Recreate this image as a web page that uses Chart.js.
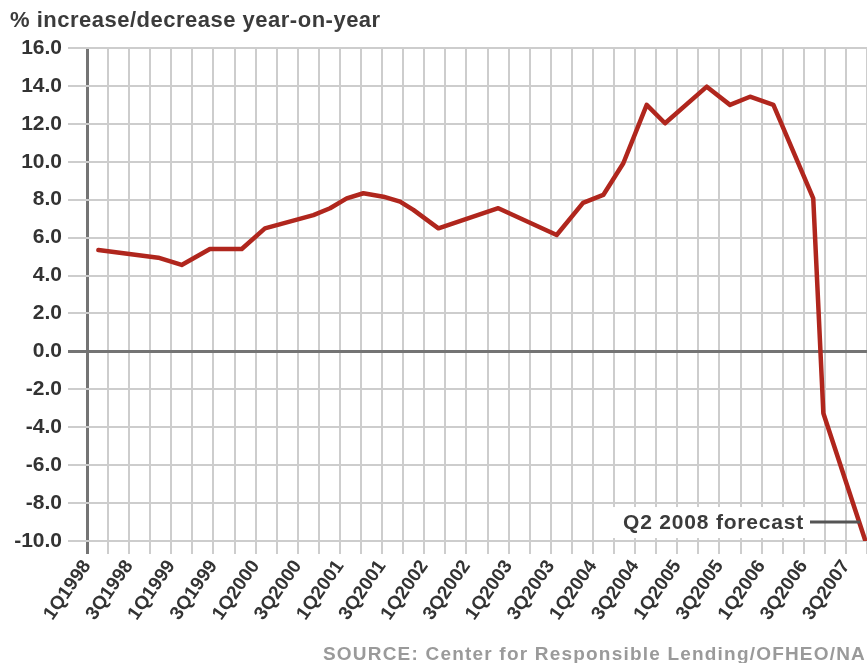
<!DOCTYPE html>
<html>
<head>
<meta charset="utf-8">
<script src="https://cdn.jsdelivr.net/npm/chart.js@4.4.1/dist/chart.umd.min.js"></script>
<style>
  html, body { margin: 0; padding: 0; background: #fff; }
  canvas { display: block; }
</style>
</head>
<body>
<canvas id="yoyChart" width="867" height="663"></canvas>
<script>
// tick labels, one on every second gridline (as printed on the original)
const quarterLabels = ["1Q1998", "3Q1998", "1Q1999", "3Q1999", "1Q2000", "3Q2000", "1Q2001", "3Q2001",
  "1Q2002", "3Q2002", "1Q2003", "3Q2003", "1Q2004", "3Q2004", "1Q2005", "3Q2005", "1Q2006", "3Q2006", "3Q2007"];

// x position in quarters since 1Q1998
const quarterPos = [0.54, 3.38, 4.49, 5.83, 7.34, 8.44, 10.74, 11.53, 12.32, 13.11, 14.06, 14.85, 15.48, 16.67,
  19.51, 22.28, 23.53, 24.49, 25.44, 26.55, 27.42, 29.4, 30.5, 31.45, 32.56, 34.45, 34.93, 36.91];
// % increase/decrease year-on-year
const yoyChange = [5.35, 4.94, 4.56, 5.4, 5.4, 6.49, 7.19, 7.55, 8.07, 8.34, 8.16, 7.9, 7.46, 6.49,
  7.55, 6.14, 7.83, 8.25, 9.92, 13.0, 12.03, 13.96, 13.0, 13.43, 13.0, 8.07, -3.26, -9.95];

const yMin = -10, yMax = 16, yStep = 2;
const xMax = 37;

const titleText = "% increase/decrease year-on-year";
const sourceText = "SOURCE: Center for Responsible Lending/OFHEO/NAR";
const forecastText = "Q2 2008 forecast";

const FONT = "'Liberation Sans', Arial, Helvetica, sans-serif";
const GRID = "#cdcdcd";
const AXIS = "#747474";

const extras = {
  id: "extras",
  afterDraw(chart) {
    const c = chart.ctx;
    const ys = chart.scales.y;
    c.save();
    c.textBaseline = "alphabetic";
    c.textAlign = "left";

    // heading
    c.fillStyle = "#3b3b3b";
    c.font = "bold 22px " + FONT;
    c.letterSpacing = "0.5px";
    c.fillText(titleText, 10, 27);

    // source line (runs off the right edge, as in the original crop)
    c.fillStyle = "#9a9a9a";
    c.font = "bold 19px " + FONT;
    c.letterSpacing = "1.2px";
    c.fillText(sourceText, 323, 660);

    // forecast note
    const ny = ys.getPixelForValue(-9);
    c.fillStyle = "#fff";
    c.fillRect(612, ny - 15, 196, 31);
    c.fillStyle = "#3b3b3b";
    c.font = "bold 21px " + FONT;
    c.letterSpacing = "0.8px";
    c.textAlign = "right";
    c.fillText(forecastText, 804, ny + 7);
    c.strokeStyle = "#555";
    c.lineWidth = 3;
    c.beginPath();
    c.moveTo(810, ny);
    c.lineTo(860, ny);
    c.stroke();
    c.restore();
  }
};

new Chart(document.getElementById("yoyChart"), {
  type: "line",
  data: {
    datasets: [{
      data: quarterPos.map((q, i) => ({ x: q, y: yoyChange[i] })),
      borderColor: "#b0261d",
      borderWidth: 4.5,
      borderJoinStyle: "round",
      borderCapStyle: "round",
      pointRadius: 0,
      tension: 0,
      fill: false
    }]
  },
  options: {
    responsive: false,
    animation: false,
    devicePixelRatio: 1,
    layout: { padding: { top: 48, left: 0, right: 0, bottom: 0 } },
    plugins: { legend: { display: false }, tooltip: { enabled: false } },
    scales: {
      x: {
        type: "linear",
        min: 0,
        max: xMax,
        border: { display: false },
        grid: {
          color: (ctx) => ctx.tick && ctx.tick.value === 0 ? AXIS : GRID,
          lineWidth: (ctx) => ctx.tick && ctx.tick.value === 0 ? 3 : 2,
          tickLength: 13
        },
        ticks: {
          stepSize: 1,
          autoSkip: false,
          minRotation: 55,
          maxRotation: 55,
          padding: 2,
          color: "#333",
          font: { family: FONT, size: 19, weight: "bold" },
          callback: (v) => v % 2 === 0 && quarterLabels[v / 2] ? quarterLabels[v / 2] : ""
        },
        afterFit: (scale) => {
          scale.height = 122;
          scale.paddingLeft = 0;
          scale.paddingRight = 0;
        }
      },
      y: {
        min: yMin,
        max: yMax,
        border: { display: false },
        grid: {
          color: (ctx) => ctx.tick && ctx.tick.value === 0 ? AXIS : GRID,
          lineWidth: (ctx) => ctx.tick && ctx.tick.value === 0 ? 3 : 2,
          tickLength: 19
        },
        ticks: {
          stepSize: yStep,
          padding: 6,
          color: "#333",
          font: { family: FONT, size: 21, weight: "bold" },
          callback: (v) => v.toFixed(1)
        },
        afterFit: (scale) => { scale.width = 87; }
      }
    }
  },
  plugins: [extras]
});
</script>
</body>
</html>
